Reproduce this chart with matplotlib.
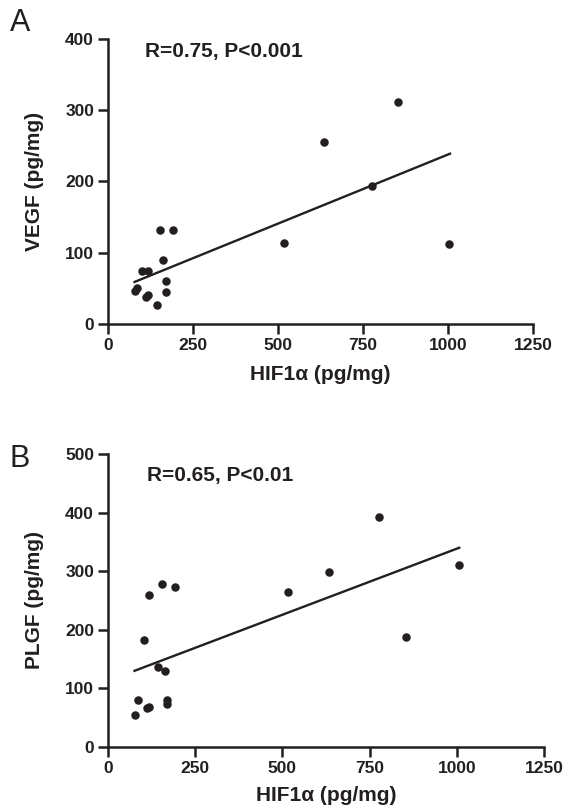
import matplotlib
matplotlib.use("Agg")
import matplotlib.pyplot as plt

plt.rcParams['font.family'] = ['Liberation Sans', 'DejaVu Sans']

### Data (HIF1alpha vs VEGF / PLGF, pg/mg)
hif_a = [78, 85, 100, 117, 112, 119, 144, 154, 192, 162, 170, 170, 517, 635, 776, 853, 1004]
vegf = [47, 50, 75, 75, 38, 40, 27, 132, 132, 90, 61, 45, 113, 255, 193, 312, 112]
fit_x_a = [78, 1006]
fit_y_a = [59, 239]

hif_b = [78, 86, 102, 111, 118, 117, 144, 154, 162, 170, 170, 193, 517, 635, 776, 854, 1005]
plgf = [54, 80, 182, 66, 68, 260, 136, 279, 129, 80, 73, 273, 264, 298, 393, 188, 310]
fit_x_b = [76, 1007]
fit_y_b = [130, 340]

xticks = [0, 250, 500, 750, 1000, 1250]
yticks_a = [0, 100, 200, 300, 400]
yticks_b = [0, 100, 200, 300, 400, 500]

ink = '#231f20'

fig = plt.figure(figsize=(5.76, 8.1), dpi=100)
ax_a = fig.add_axes([0.1875, 0.600, 0.7378, 0.3519])
ax_b = fig.add_axes([0.1875, 0.0778, 0.7569, 0.3617])


def style(ax, yticks, ylabel):
    ax.set_xlim(0, 1250)
    ax.set_ylim(0, yticks[-1])
    ax.set_xticks(xticks)
    ax.set_yticks(yticks)
    for s in ['top', 'right']:
        ax.spines[s].set_visible(False)
    for s in ['left', 'bottom']:
        ax.spines[s].set_linewidth(1.8)
        ax.spines[s].set_color(ink)
    ax.tick_params(direction='out', length=7, width=1.8, color=ink,
                   labelsize=12.5, labelcolor=ink, pad=3)
    for lab in ax.get_xticklabels() + ax.get_yticklabels():
        lab.set_fontweight('bold')
    ax.set_xlabel("HIF1\u03b1 (pg/mg)", fontsize=15, fontweight='bold', color=ink)
    ax.set_ylabel(ylabel, fontsize=15, fontweight='bold', color=ink)


## Panel A
ax_a.scatter(hif_a, vegf, s=26, color=ink, zorder=3, clip_on=False)
ax_a.plot(fit_x_a, fit_y_a, color=ink, lw=1.7)
style(ax_a, yticks_a, "VEGF (pg/mg)")
ax_a.xaxis.set_label_coords(0.5, -0.145)
ax_a.yaxis.set_label_coords(-0.15, 0.5)
ax_a.text(108, 383, "R=0.75, P<0.001", fontsize=15, fontweight='bold', color=ink,
          ha='left', va='center')

## Panel B
ax_b.scatter(hif_b, plgf, s=26, color=ink, zorder=3, clip_on=False)
ax_b.plot(fit_x_b, fit_y_b, color=ink, lw=1.7)
style(ax_b, yticks_b, "PLGF (pg/mg)")
ax_b.xaxis.set_label_coords(0.5, -0.133)
ax_b.yaxis.set_label_coords(-0.147, 0.5)
ax_b.text(111, 464, "R=0.65, P<0.01", fontsize=15, fontweight='bold', color=ink,
          ha='left', va='center')

fig.text(0.017, 0.972, "A", fontsize=22, color=ink, ha='left', va='center')
fig.text(0.017, 0.433, "B", fontsize=22, color=ink, ha='left', va='center')

plt.savefig("out.png", dpi=100)
